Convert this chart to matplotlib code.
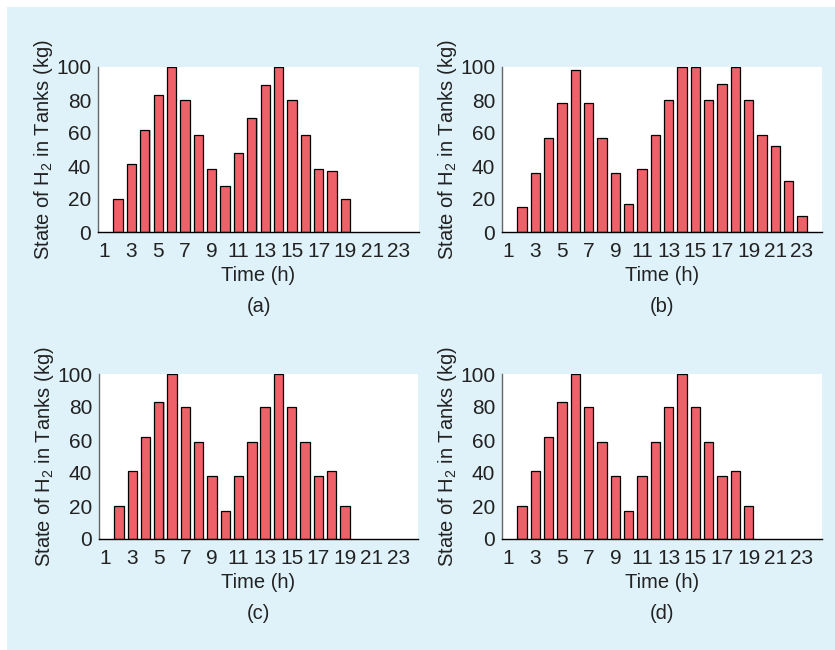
import matplotlib
matplotlib.use('Agg')
import matplotlib.pyplot as plt
from matplotlib.patches import Rectangle

plt.rcParams['font.family'] = ['Liberation Sans', 'DejaVu Sans']
plt.rcParams['mathtext.default'] = 'regular'

hours = list(range(1, 25))

# hydrogen stored in tanks (kg) for each hour, one list per case
h2_a = [0, 20, 41, 62, 83, 100, 80, 59, 38, 28, 48, 69, 89, 100, 80, 59, 38, 37, 20, 0, 0, 0, 0, 0]
h2_b = [0, 15, 36, 57, 78, 98, 78, 57, 36, 17, 38, 59, 80, 100, 100, 80, 90, 100, 80, 59, 52, 31, 10, 0]
h2_c = [0, 20, 41, 62, 83, 100, 80, 59, 38, 17, 38, 59, 80, 100, 80, 59, 38, 41, 20, 0, 0, 0, 0, 0]
h2_d = [0, 20, 41, 62, 83, 100, 80, 59, 38, 17, 38, 59, 80, 100, 80, 59, 38, 41, 20, 0, 0, 0, 0, 0]

panels = ['(a)', '(b)', '(c)', '(d)']
xticks = list(range(1, 24, 2))
yticks = [0, 20, 40, 60, 80, 100]

bar_color = '#ef6168'
bg = '#dff1f9'
txt = '#222222'

W, H = 835, 650
fig = plt.figure(figsize=(8.35, 6.5), dpi=100)
fig.patch.set_facecolor('white')
fig.patches.append(Rectangle((7 / W, 0), 1 - 7 / W, 1 - 7 / H, transform=fig.transFigure,
                             facecolor=bg, edgecolor='none', zorder=-10))

# axes boxes in pixels: left, top, right, bottom
boxes = [(98, 67, 419, 232), (502, 67, 822, 232), (99, 374, 418, 539), (502, 374, 822, 539)]

for data, name, (l, t, r, b) in zip([h2_a, h2_b, h2_c, h2_d], panels, boxes):
    ax = fig.add_axes([l / W, 1 - b / H, (r - l) / W, (b - t) / H])
    hx = [h for h, v in zip(hours, data) if v > 0]
    hv = [v for v in data if v > 0]
    # soft shadow behind each bar
    ax.bar([h + 0.08 for h in hx], hv, width=0.7, color='#8a8a8a', alpha=0.6,
           edgecolor='none', zorder=1)
    ax.bar(hx, hv, width=0.7, color=bar_color, edgecolor='black', linewidth=0.9, zorder=2)
    ax.set_xlim(0.5, 24.5)
    ax.set_ylim(0, 100)
    ax.set_xticks(xticks)
    ax.set_yticks(yticks)
    ax.tick_params(length=0, labelsize=15, colors=txt, pad=5)
    ax.tick_params(axis='x', pad=7)
    ax.spines['top'].set_visible(False)
    ax.spines['right'].set_visible(False)
    ax.spines['left'].set_color('#666666')
    ax.spines['bottom'].set_color('black')
    ax.spines['left'].set_linewidth(1.0)
    ax.spines['bottom'].set_linewidth(1.0)
    ax.set_ylabel('State of H$_2$ in Tanks (kg)', fontsize=14.5, color=txt, labelpad=1)
    ax.set_xlabel('Time (h)', fontsize=14.5, color=txt, labelpad=4)
    ax.text(0.5, -0.45, name, transform=ax.transAxes, ha='center', va='center',
            fontsize=14.5, color=txt)

fig.savefig('out.png', dpi=100, facecolor=fig.get_facecolor())
